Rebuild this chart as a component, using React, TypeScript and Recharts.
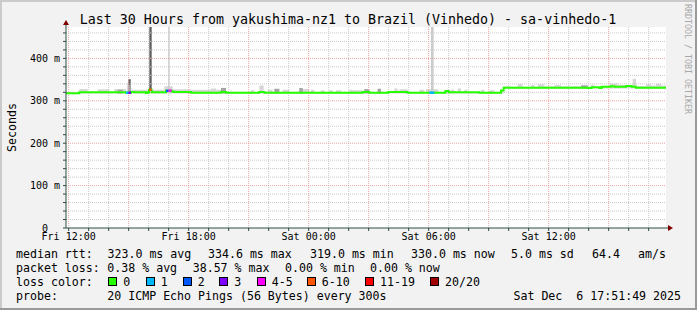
import React from "react";
import {
  ComposedChart,
  Area,
  Line,
  XAxis,
  YAxis,
  CartesianGrid,
  ReferenceLine,
} from "recharts";

// time is in minutes since Fri 12:00, graph runs Fri 11:52 -> Sat 17:52
const T_START = -8;
const T_END = 1792;
const Y_MAX = 474;

const xLabelTimes = [0, 360, 720, 1080, 1440];
const xLabels = ["Fri 12:00", "Fri 18:00", "Sat 00:00", "Sat 06:00", "Sat 12:00"];
const yLabelValues = [0, 100, 200, 300, 400];
// rrdtool keeps the unit column free for the zero label
const yLabels = ["0\u00a0\u00a0", "100 m", "200 m", "300 m", "400 m"];

// median rtt in ms, [minute, value] held until the next entry
const medianSteps: [number, number][] = [
  [-8, 318], [32, 320], [172, 319], [187, 321], [197, 320], [232, 318.5],
  [237, 320], [241, 326], [249, 320], [292, 323.5], [309, 322], [315, 321],
  [367, 319], [457, 321], [472, 319], [572, 321], [587, 319], [882, 321],
  [902, 319], [959, 321], [1017, 319], [1130, 323], [1140, 320], [1232, 319],
  [1297, 324], [1305, 331], [1557, 330], [1569, 332], [1592, 330], [1599, 333],
  [1627, 334], [1637, 333], [1672, 335], [1689, 333], [1702, 331], [1792, 331],
];

// smoke (spread of the 20 pings), [minute, low, high]
const smokeLight: [number, number, number][] = [
  [-8, 317, 320], [32, 317, 328], [57, 317, 321], [87, 317, 327], [122, 317, 321],
  [137, 317, 328], [172, 317, 321], [177, 317, 334], [187, 317, 326], [237, 317, 321],
  [249, 317, 326], [287, 317, 334], [312, 317, 327], [367, 317, 326], [427, 317, 329],
  [442, 317, 326], [457, 317, 331], [472, 317, 321], [547, 317, 325], [557, 317, 321],
  [572, 317, 336], [585, 317, 321], [597, 317, 326], [612, 317, 321], [617, 317, 329],
  [632, 317, 321], [642, 317, 326], [662, 317, 321], [692, 317, 330], [702, 317, 328],
  [722, 317, 321], [727, 317, 326], [737, 317, 321], [757, 317, 325], [767, 317, 321],
  [782, 317, 325], [792, 317, 321], [802, 317, 325], [817, 317, 321], [842, 317, 326],
  [852, 317, 325], [882, 317, 323], [887, 317, 328], [902, 317, 321], [927, 317, 329],
  [937, 317, 321], [977, 317, 329], [987, 317, 321], [992, 317, 327], [1017, 317, 321],
  [1052, 317, 326], [1067, 317, 321], [1072, 317, 327], [1109, 317, 321], [1147, 317, 326],
  [1157, 317, 321], [1167, 317, 329], [1177, 317, 321], [1187, 317, 326], [1197, 317, 321],
  [1237, 317, 326], [1247, 317, 321], [1262, 317, 325], [1277, 317, 321], [1297, 317, 326],
  [1305, 329, 334], [1327, 329, 333], [1347, 329, 339], [1362, 329, 333], [1387, 329, 337],
  [1397, 329, 333], [1407, 329, 339], [1427, 329, 334], [1457, 329, 337], [1477, 329, 334],
  [1537, 329, 337], [1557, 329, 333], [1567, 329, 338], [1577, 329, 334], [1622, 329, 341],
  [1647, 329, 337], [1692, 329, 352], [1702, 329, 335], [1732, 329, 339], [1747, 329, 336],
  [1762, 329, 340], [1777, 329, 336], [1792, 329, 336],
];

const smokeDark: [number, number, number][] = [
  [-8, 317, 317], [147, 317, 326], [162, 317, 317], [177, 317, 342], [187, 317, 317],
  [457, 317, 330], [472, 317, 317], [617, 317, 328], [632, 317, 317], [692, 317, 330],
  [702, 317, 317], [887, 317, 327], [902, 317, 317], [927, 317, 328], [937, 317, 317],
  [1537, 329, 336], [1557, 329, 329], [1792, 329, 329],
];

// single intervals where some pings went far above the median [from, to, low, high]
const darkSpikes: [number, number, number, number][] = [
  [179, 186, 338, 351],
  [242, 249, 323, 474],
];
const lightSpikes: [number, number, number, number][] = [
  [299, 303, 324, 474],
  [1087, 1095, 322, 474],
];

// median stretches drawn in loss colour [from, to, rtt, loss class]
const lossMarks: [number, number, number, number][] = [
  [172, 179, 319, 1],
  [179, 187, 319, 3],
  [241, 249, 326, 5],
  [292, 299, 323.5, 2],
  [299, 309, 324, 4],
  [1082, 1097, 319, 1],
];

const lossLabels = ["0", "1", "2", "3", "4-5", "6-10", "11-19", "20/20"];
const lossColors = ["#26ff00", "#00b8ff", "#0059ff", "#7e00ff", "#ff00ff", "#ff5500", "#ff0000", "#a00000"];

const medianStats = ["323.0 ms avg", "334.6 ms max", "319.0 ms min", "330.0 ms now", "5.0 ms sd", "64.4", "am/s"];
const lossStats = ["0.38 % avg", "38.57 % max", "0.00 % min", "0.00 % now"];
const probeText = "20 ICMP Echo Pings (56 Bytes) every 300s";
const stampText = "Sat Dec\u00a0\u00a06 17:51:49 2025";
const title = "Last 30 Hours from yakushima-nz1 to Brazil (Vinhedo) - sa-vinhedo-1";

const FONT = "DejaVu Sans Mono";
const GRID = "#c9c9c9";
const MGRID = "#eea3a3";
const AXIS = "#2c4d43";
const ARROW = "#800000";

const hourTicks: number[] = [];
for (let t = 0; t < T_END; t += 60) hourTicks.push(t);
const yTicks: number[] = [];
for (let v = 0; v <= 460; v += 20) yTicks.push(v);

const medianData = medianSteps.map(([t, v]) => ({ t, v }));
const lightData = smokeLight.map(([t, lo, hi]) => ({ t, r: [lo, hi] }));
const darkData = smokeDark.map(([t, lo, hi]) => ({ t, r: [lo, hi] }));
const spikeData = (s: [number, number, number, number]) => [
  { t: s[0], r: [s[2], s[3]] },
  { t: s[1], r: [s[2], s[3]] },
];

function Legend() {
  const statX1 = [107.5, 208, 310, 411, 511, 592, 638];
  const statX2 = [107.3, 192.7, 285, 370];
  const boxX = [108.3, 145.7, 182.7, 219.3, 256.7, 306.7, 365, 430];
  return (
    <g fontFamily={FONT} fontSize={11.6} fill="#000">
      <text x={16} y={258}>median rtt:</text>
      {medianStats.map((s, i) => (
        <text key={s} x={statX1[i]} y={258}>{s}</text>
      ))}
      <text x={16} y={272}>packet loss:</text>
      {lossStats.map((s, i) => (
        <text key={s} x={statX2[i]} y={272}>{s}</text>
      ))}
      <text x={16} y={286}>loss color:</text>
      {lossLabels.map((l, i) => (
        <g key={l}>
          <rect x={Math.round(boxX[i]) + 0.5} y={277.5} width={8} height={8} fill={lossColors[i]} stroke="#000" />
          <text x={boxX[i] + 15} y={286}>{l}</text>
        </g>
      ))}
      <text x={16} y={300}>probe:</text>
      <text x={107.3} y={300}>{probeText}</text>
      <text x={681} y={300} textAnchor="end">{stampText}</text>
    </g>
  );
}

export default function App() {
  return (
    <div style={{ position: "absolute", left: 0, top: 0, width: 697, height: 310, background: "#f2f2f2" }}>
      <ComposedChart width={697} height={310} margin={{ top: 27, right: 31, bottom: 52, left: 6 }}>
        <CartesianGrid fill="#ffffff" horizontal={false} vertical={false} />
        {yTicks.filter((v) => v > 0 && v % 100 !== 0).map((v) => (
          <ReferenceLine key={"h" + v} y={v} stroke={GRID} strokeDasharray="1 1" />
        ))}
        {hourTicks.filter((t) => t % 180 !== 0).map((t) => (
          <ReferenceLine key={"v" + t} x={t} stroke={GRID} strokeDasharray="1 1" />
        ))}
        {yTicks.filter((v) => v > 0 && v % 100 === 0).map((v) => (
          <ReferenceLine key={"H" + v} y={v} stroke={MGRID} strokeDasharray="1 1" />
        ))}
        {hourTicks.filter((t) => t % 180 === 0).map((t) => (
          <ReferenceLine key={"V" + t} x={t} stroke={MGRID} strokeDasharray="1 1" />
        ))}
        <XAxis
          type="number"
          dataKey="t"
          domain={[T_START, T_END]}
          allowDataOverflow
          ticks={hourTicks}
          interval={0}
          tickFormatter={(t: number) => {
            const i = xLabelTimes.indexOf(t);
            return i >= 0 ? xLabels[i] : "";
          }}
          tick={{ fontSize: 10, fontFamily: FONT, fill: "#000" }}
          tickSize={3}
          tickMargin={2}
          height={30}
          axisLine={{ stroke: AXIS }}
          tickLine={{ stroke: AXIS }}
        />
        <YAxis
          type="number"
          domain={[0, Y_MAX]}
          allowDataOverflow
          ticks={yTicks}
          interval={0}
          tickFormatter={(v: number) => {
            const i = yLabelValues.indexOf(v);
            return i >= 0 ? yLabels[i] : "";
          }}
          tick={{ fontSize: 10, fontFamily: FONT, fill: "#000" }}
          tickSize={3}
          tickMargin={3}
          width={60}
          axisLine={{ stroke: AXIS }}
          tickLine={{ stroke: AXIS }}
        />
        <Area data={lightData} dataKey="r" type="stepAfter" fill="#d6d6d6" fillOpacity={1} stroke="none" isAnimationActive={false} />
        <Area data={darkData} dataKey="r" type="stepAfter" fill="#a4a4a4" fillOpacity={1} stroke="none" isAnimationActive={false} />
        {lightSpikes.map((s) => (
          <Area key={"ls" + s[0]} data={spikeData(s)} dataKey="r" type="linear" fill="#cccccc" fillOpacity={1} stroke="none" isAnimationActive={false} />
        ))}
        {darkSpikes.map((s) => (
          <Area key={"ds" + s[0]} data={spikeData(s)} dataKey="r" type="linear" fill="#5c5c5c" fillOpacity={1} stroke="none" isAnimationActive={false} />
        ))}
        <Line data={medianData} dataKey="v" type="stepAfter" stroke={lossColors[0]} strokeWidth={2} dot={false} isAnimationActive={false} />
        {lossMarks.map(([t0, t1, v, c]) => (
          <Line
            key={"lm" + t0}
            data={[{ t: t0, v }, { t: t1, v }]}
            dataKey="v"
            type="linear"
            stroke={lossColors[c]}
            strokeWidth={2.4}
            dot={false}
            isAnimationActive={false}
          />
        ))}
      </ComposedChart>
      <svg width={697} height={310} style={{ position: "absolute", left: 0, top: 0, pointerEvents: "none" }}>
        <rect x={0} y={0} width={697} height={2} fill="#cbcbcb" />
        <rect x={0} y={0} width={2} height={310} fill="#cbcbcb" />
        <rect x={0} y={308} width={697} height={2} fill="#999999" />
        <rect x={695} y={0} width={2} height={310} fill="#999999" />
        <text x={348} y={24} textAnchor="middle" fontFamily={FONT} fontSize={13.3} fill="#000">{title}</text>
        <text transform="translate(15.5,127.5) rotate(-90)" textAnchor="middle" fontFamily={FONT} fontSize={11.6} fill="#000">Seconds</text>
        <text transform="translate(685,4) rotate(90)" fontFamily={FONT} fontSize={8.3} fill="#a8a8a8">RRDTOOL / TOBI OETIKER</text>
        <line x1={66} y1={27} x2={66} y2={24} stroke={AXIS} />
        <polygon points="63,25 69,25 66,20" fill={ARROW} />
        <line x1={666} y1={228} x2={669} y2={228} stroke={AXIS} />
        <polygon points="668,225 668,231 673,228" fill={ARROW} />
        <Legend />
      </svg>
    </div>
  );
}
